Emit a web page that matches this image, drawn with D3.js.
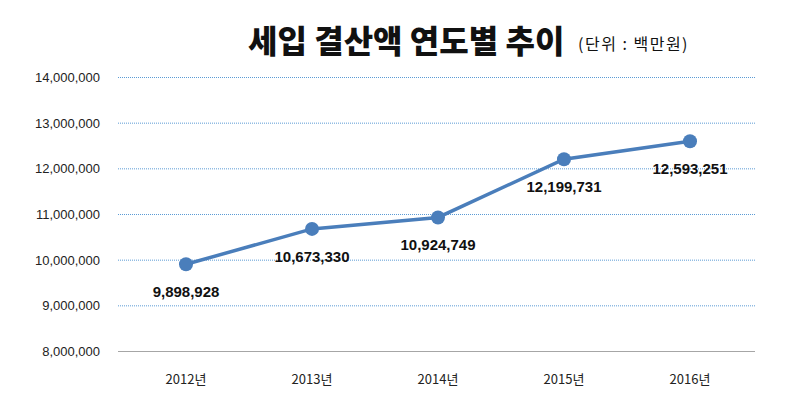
<!DOCTYPE html>
<html><head><meta charset="utf-8">
<script src="https://cdn.jsdelivr.net/npm/d3@7"></script>
<style>body{margin:0;background:#fff}</style></head>
<body><svg id="c" width="791" height="406"></svg>
<script>
const categories=["2012년","2013년","2014년","2015년","2016년"];
const values=[9898928,10673330,10924749,12199731,12593251];
const yTicks=[8000000,9000000,10000000,11000000,12000000,13000000,14000000];
const svg=d3.select("#c");
const x=d3.scalePoint().domain(categories).range([186,690]);
const y=d3.scaleLinear().domain([8000000,14000000]).range([351,77]);
const f=d3.format(",");
svg.append("text").attr("x",248).attr("y",53).attr("font-family","Noto Sans CJK KR").attr("font-weight","900").attr("font-size",32).attr("fill","#111").text("세입 결산액 연도별 추이");
svg.append("text").attr("x",578).attr("y",50).attr("font-family","Noto Sans CJK KR").attr("font-size",16).attr("letter-spacing",1.5).attr("fill","#111").text("(단위 : 백만원)");
svg.selectAll(".g").data(yTicks.slice(1)).join("line").attr("x1",118).attr("x2",755).attr("y1",d=>y(d)+.5).attr("y2",d=>y(d)+.5).attr("stroke","#5b9bd5").attr("stroke-dasharray","1,1");
svg.append("line").attr("x1",118).attr("x2",755).attr("y1",351.5).attr("y2",351.5).attr("stroke","#a6a6a6");
svg.selectAll(".yl").data(yTicks).join("text").attr("x",100).attr("y",d=>y(d)+5).attr("text-anchor","end").attr("font-family","Liberation Sans").attr("font-size",13).attr("fill","#222").text(f);
svg.selectAll(".xl").data(categories).join("text").attr("x",d=>x(d)).attr("y",384).attr("text-anchor","middle").attr("font-family","Noto Sans CJK KR").attr("font-size",13).attr("fill","#222").text(d=>d);
const line=d3.line().x((d,i)=>x(categories[i])).y(d=>y(d));
svg.append("path").datum(values).attr("d",line).attr("fill","none").attr("stroke","#4a7ebb").attr("stroke-width",3.5);
svg.selectAll(".p").data(values).join("circle").attr("cx",(d,i)=>x(categories[i])).attr("cy",d=>y(d)).attr("r",7).attr("fill","#4a7ebb");
svg.selectAll(".v").data(values).join("text").attr("x",(d,i)=>x(categories[i])).attr("y",(d,i)=>y(d)+33).attr("text-anchor","middle").attr("font-family","Liberation Sans").attr("font-weight","bold").attr("font-size",15).attr("fill","#111").text(f);
</script></body></html>
